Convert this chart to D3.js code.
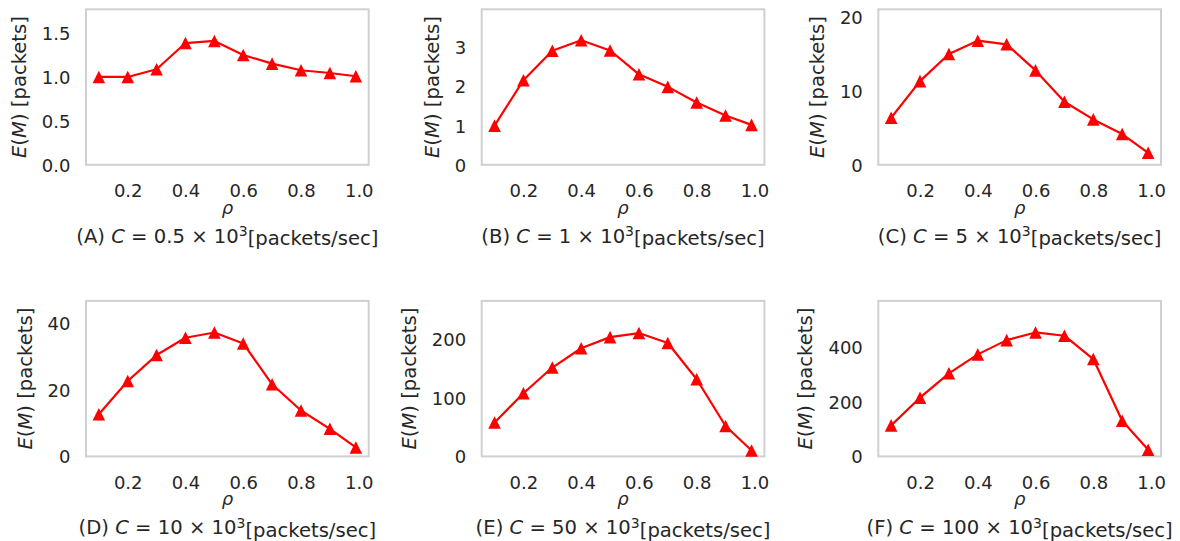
<!DOCTYPE html>
<html>
<head>
<meta charset="utf-8">
<script src="https://cdn.jsdelivr.net/npm/d3@7"></script>
<style>
  body { margin: 0; background: #fff; }
  text { font-family: "DejaVu Sans", sans-serif; fill: #262626; }
</style>
</head>
<body>
<div id="d3-container"></div>
<script>
/**
 * CONSTANTS AND GLOBALS
 * */
const width = 1180,
  height = 541;

// load factor rho on the x axis (last point is 0.99)
const rho = [0.1, 0.2, 0.3, 0.4, 0.5, 0.6, 0.7, 0.8, 0.9, 0.99];

// E(M) for each capacity C
const seriesA = [1.0, 1.0, 1.087, 1.386, 1.41, 1.25, 1.152, 1.076, 1.045, 1.008];
const seriesB = [1.0, 2.16, 2.91, 3.18, 2.92, 2.31, 1.99, 1.59, 1.26, 1.02];
const seriesC = [6.35, 11.3, 14.96, 16.76, 16.27, 12.75, 8.51, 6.13, 4.15, 1.62];
const seriesD = [12.7, 22.7, 30.5, 35.7, 37.3, 34.0, 21.7, 13.8, 8.3, 2.7];
const seriesE = [58, 108, 152, 185, 204, 211, 194, 132, 52, 10];
const seriesF = [113, 214, 303, 372, 424, 452, 440, 355, 130, 24];

const panelLetters = ["A", "B", "C", "D", "E", "F"];
const capacities = ["0.5", "1", "5", "10", "50", "100"];

// upper y limit of each panel, read from the frame
const yTops = [1.77, 3.97, 21.0, 46.8, 266, 567];

// tick labels
const xTicks = [0.2, 0.4, 0.6, 0.8, 1.0];
const yTicksA = [0, 0.5, 1.0, 1.5];
const yTicksB = [0, 1, 2, 3];
const yTicksC = [0, 10, 20];
const yTicksD = [0, 20, 40];
const yTicksE = [0, 100, 200];
const yTicksF = [0, 200, 400];

const series = [seriesA, seriesB, seriesC, seriesD, seriesE, seriesF];
const yTicks = [yTicksA, yTicksB, yTicksC, yTicksD, yTicksE, yTicksF];
const yFormats = [d3.format(".1f"), d3.format("d"), d3.format("d"), d3.format("d"), d3.format("d"), d3.format("d")];

// panel frames
const colLeft = [86, 481.7, 878.3],
  rowTop = [9.3, 300.9],
  w = 282.7,
  h = 155.5;

const tickSize = 18,
  labelSize = 19.6;

let svg;

function init() {
  svg = d3.select("#d3-container")
    .append("svg")
    .attr("width", width)
    .attr("height", height);

  // x range with matplotlib's 5% margins
  const xMin = rho[0] - 0.05 * (rho[rho.length - 1] - rho[0]),
    xMax = rho[rho.length - 1] + 0.05 * (rho[rho.length - 1] - rho[0]);
  const x = d3.scaleLinear().domain([xMin, xMax]).range([0, w]);

  series.forEach((vals, i) => {
    const g = svg.append("g")
      .attr("transform", `translate(${colLeft[i % 3]},${rowTop[Math.floor(i / 3)]})`);
    const y = d3.scaleLinear().domain([0, yTops[i]]).range([h, 0]);
    draw(g, x, y, vals, i);
  });
}

function draw(g, x, y, vals, i) {
  // frame
  g.append("rect")
    .attr("width", w)
    .attr("height", h)
    .attr("fill", "none")
    .attr("stroke", "#d0d0d0")
    .attr("stroke-width", 2);

  // x axis labels only (no tick marks)
  const xAxis = g.append("g")
    .attr("transform", `translate(0,${h})`)
    .call(d3.axisBottom(x).tickValues(xTicks).tickFormat(d3.format(".1f")).tickSize(0).tickPadding(0));
  xAxis.select(".domain").remove();
  xAxis.selectAll("text")
    .attr("y", 32.5)
    .attr("dy", null)
    .attr("fill", "#262626")
    .style("font-size", tickSize + "px")
    .style("font-family", "DejaVu Sans");

  const yAxis = g.append("g")
    .call(d3.axisLeft(y).tickValues(yTicks[i]).tickFormat(yFormats[i]).tickSize(0).tickPadding(0));
  yAxis.select(".domain").remove();
  yAxis.selectAll("text")
    .attr("x", -15.5)
    .attr("dy", "0.36em")
    .attr("fill", "#262626")
    .style("font-size", tickSize + "px")
    .style("font-family", "DejaVu Sans");

  // y label placed left of the widest tick label
  let maxW = 0;
  yAxis.selectAll("text").each(function () {
    maxW = Math.max(maxW, this.getComputedTextLength());
  });
  const labX = -15.5 - maxW - 12 - 4;
  const yl = g.append("text")
    .attr("transform", `translate(${labX},${h / 2}) rotate(-90)`)
    .attr("text-anchor", "middle")
    .style("font-size", labelSize + "px");
  yl.append("tspan").attr("font-style", "italic").text("E");
  yl.append("tspan").text("(");
  yl.append("tspan").attr("font-style", "italic").text("M");
  yl.append("tspan").text(") [packets]");

  // rho label
  g.append("text")
    .attr("x", w / 2)
    .attr("y", h + 49)
    .attr("text-anchor", "middle")
    .attr("font-style", "italic")
    .style("font-size", "18px")
    .text("ρ");

  // caption
  const cap = g.append("text")
    .attr("x", w / 2)
    .attr("y", h + 78)
    .attr("text-anchor", "middle")
    .style("font-size", labelSize + "px");
  cap.append("tspan").text(`(${panelLetters[i]}) `);
  cap.append("tspan").attr("font-style", "italic").text("C");
  cap.append("tspan").text(` = ${capacities[i]} × 10`);
  cap.append("tspan").attr("dy", "-0.45em").style("font-size", "14px").text("3");
  cap.append("tspan").attr("dy", "0.45em").text("[packets/sec]");

  // line
  const line = d3.line()
    .x((d, j) => x(rho[j]))
    .y(d => y(d));

  g.append("path")
    .datum(vals)
    .attr("fill", "none")
    .attr("stroke", "#ff0000")
    .attr("stroke-width", 2.2)
    .attr("stroke-linejoin", "round")
    .attr("d", line);

  // triangle markers
  const s = 6.3;
  g.selectAll("path.marker")
    .data(vals)
    .join("path")
    .attr("class", "marker")
    .attr("fill", "#ff0000")
    .attr("d", `M0,${-s}L${s},${s}L${-s},${s}Z`)
    .attr("transform", (d, j) => `translate(${x(rho[j])},${y(d)})`);
}

init();
</script>
</body>
</html>
